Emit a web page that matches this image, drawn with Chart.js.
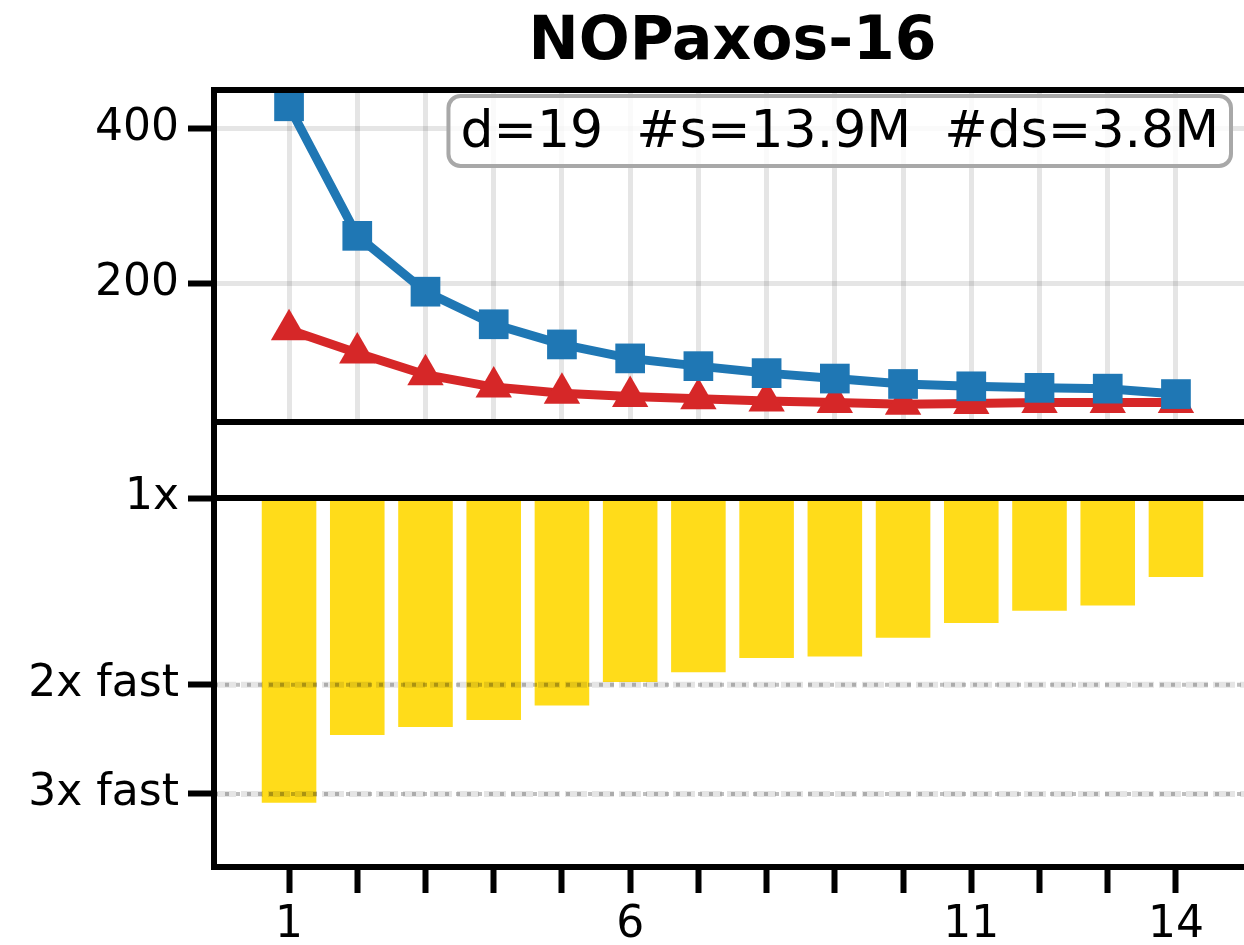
<!DOCTYPE html>
<html lang="en">
<head>
    <meta charset="UTF-8">
    <title>NOPaxos-16</title>
    <script src="https://cdn.jsdelivr.net/npm/chart.js"></script>
    <style>
        html, body {
            margin: 0;
            padding: 0;
            overflow: hidden;
            background: #fff;
        }
        body {
            position: relative;
            width: 1244px;
            height: 945px;
            font-family: "DejaVu Sans", sans-serif;
        }
        #title {
            position: absolute;
            left: 214px;
            width: 1037px;
            top: 5px;
            text-align: center;
            font-weight: bold;
            font-size: 60px;
            line-height: 66px;
            color: #000;
        }
        #topChart {
            position: absolute;
            left: 0;
            top: 0;
        }
        #bottomChart {
            position: absolute;
            left: 0;
            top: 400px;
        }
    </style>
</head>
<body>
    <div id="title">NOPaxos-16</div>
    <canvas id="topChart" width="1260" height="440"></canvas>
    <canvas id="bottomChart" width="1260" height="545"></canvas>

    <script>
        // values
        const steps = [1, 2, 3, 4, 5, 6, 7, 8, 9, 10, 11, 12, 13, 14];
        const baseline = [429, 262, 190, 148, 122, 104, 94, 85, 78, 71, 68, 66, 65, 58];
        const optimized = [141, 111, 83, 67, 59, 55, 52, 49, 47, 45, 46, 47, 47, 47];
        const speedup = [3.10, 2.41, 2.34, 2.28, 2.16, 1.98, 1.91, 1.81, 1.80, 1.68, 1.59, 1.52, 1.49, 1.34];

        const xTickLabels = [1, 6, 11, 14];
        const topTicks = [200, 400];
        const speedTicks = [1, 2, 3];
        const speedTickLabels = ['1x', '2x fast', '3x fast'];
        const infoText = 'd=19  #s=13.9M  #ds=3.8M';

        const BLUE = '#1f77b4';
        const RED = '#d62728';
        const YELLOW = '#ffdc1a';
        const FONT = '"DejaVu Sans", sans-serif';

        const frame = {
            id: 'frame',
            afterDatasetsDraw(chart) {
                const { ctx, chartArea: a } = chart;
                ctx.save();
                ctx.strokeStyle = '#000';
                ctx.lineWidth = 6;
                ctx.strokeRect(a.left, a.top, a.right - a.left, a.bottom - a.top);
                ctx.restore();
            }
        };

        const infoBox = {
            id: 'infoBox',
            afterDraw(chart) {
                const { ctx, chartArea: a } = chart;
                ctx.save();
                ctx.font = '52px ' + FONT;
                const w = ctx.measureText(infoText).width;
                const right = a.right - 20;
                const top = a.top + 6;
                const left = right - w - 24;
                ctx.beginPath();
                ctx.roundRect(left, top, right - left, 70, 12);
                ctx.fillStyle = 'rgba(255,255,255,0.8)';
                ctx.fill();
                ctx.lineWidth = 4;
                ctx.strokeStyle = '#a8a8a8';
                ctx.stroke();
                ctx.fillStyle = '#000';
                ctx.textAlign = 'left';
                ctx.textBaseline = 'alphabetic';
                ctx.fillText(infoText, left + 12, top + 51);
                ctx.restore();
            }
        };

        // 2x / 3x dotted guides and the solid 1x line, drawn over the bars
        const speedLines = {
            id: 'speedLines',
            afterDatasetsDraw(chart) {
                const { ctx, chartArea: a, scales } = chart;
                ctx.save();
                speedTicks.forEach(v => {
                    const y = scales.y.getPixelForValue(v);
                    ctx.beginPath();
                    ctx.moveTo(a.left, y);
                    ctx.lineTo(a.right, y);
                    if (v === 1) {
                        ctx.setLineDash([]);
                        ctx.strokeStyle = '#000';
                        ctx.lineWidth = 6;
                        ctx.stroke();
                    } else {
                        ctx.setLineDash([22, 5]);
                        ctx.strokeStyle = 'rgba(0,0,0,0.1)';
                        ctx.lineWidth = 6;
                        ctx.stroke();
                        ctx.setLineDash([4, 7]);
                        ctx.strokeStyle = 'rgba(0,0,0,0.25)';
                        ctx.lineWidth = 4;
                        ctx.stroke();
                    }
                });
                ctx.restore();
            }
        };

        const tickFont = { family: FONT, size: 44 };

        // fixed axis sizes so both panels line up exactly
        function fixY(s) {
            s.width = 214;
            s.paddingTop = 0;
            s.paddingBottom = 0;
        }
        function fixX(h) {
            return s => {
                s.height = h;
                s.paddingLeft = 0;
                s.paddingRight = 0;
            };
        }

        new Chart(document.getElementById('topChart'), {
            type: 'line',
            data: {
                datasets: [
                    {
                        label: 'baseline',
                        data: steps.map((s, i) => ({ x: s, y: baseline[i] })),
                        borderColor: BLUE,
                        backgroundColor: BLUE,
                        borderWidth: 9,
                        pointStyle: 'rect',
                        pointRadius: 21,
                        pointBorderWidth: 0,
                        clip: 0
                    },
                    {
                        label: 'optimized',
                        data: steps.map((s, i) => ({ x: s, y: optimized[i] })),
                        borderColor: RED,
                        backgroundColor: RED,
                        borderWidth: 9,
                        pointStyle: 'triangle',
                        pointRadius: 21,
                        pointBorderWidth: 0,
                        clip: 0
                    }
                ]
            },
            options: {
                responsive: false,
                animation: false,
                layout: { autoPadding: false, padding: { top: 90, right: 9, left: 0, bottom: 0 } },
                plugins: {
                    legend: { display: false },
                    tooltip: { enabled: false }
                },
                scales: {
                    x: {
                        type: 'linear',
                        bounds: 'data',
                        min: -0.1,
                        max: 15.1,
                        afterBuildTicks: s => { s.ticks = steps.map(v => ({ value: v })); },
                        afterFit: fixX(18),
                        ticks: { display: false },
                        grid: { color: 'rgba(0,0,0,0.1)', lineWidth: 5, drawTicks: false },
                        border: { display: false }
                    },
                    y: {
                        bounds: 'data',
                        min: 22,
                        max: 450,
                        afterBuildTicks: s => { s.ticks = topTicks.map(v => ({ value: v })); },
                        afterFit: fixY,
                        ticks: { color: '#000', font: tickFont, padding: 9 },
                        grid: {
                            color: 'rgba(0,0,0,0.1)',
                            lineWidth: 5,
                            tickColor: '#000',
                            tickWidth: 6,
                            tickLength: 26
                        },
                        border: { display: false }
                    }
                }
            },
            plugins: [frame, infoBox]
        });

        new Chart(document.getElementById('bottomChart'), {
            type: 'bar',
            data: {
                datasets: [{
                    label: 'speedup',
                    data: steps.map((s, i) => ({ x: s, y: speedup[i] })),
                    base: 1,
                    backgroundColor: YELLOW,
                    borderWidth: 0,
                    barPercentage: 0.8,
                    categoryPercentage: 1
                }]
            },
            options: {
                responsive: false,
                animation: false,
                layout: { autoPadding: false, padding: { top: 22, right: 9, left: 0, bottom: 0 } },
                plugins: {
                    legend: { display: false },
                    tooltip: { enabled: false }
                },
                scales: {
                    x: {
                        type: 'linear',
                        bounds: 'data',
                        min: -0.1,
                        max: 15.1,
                        offset: false,
                        afterBuildTicks: s => { s.ticks = steps.map(v => ({ value: v })); },
                        afterFit: fixX(78),
                        ticks: {
                            color: '#000',
                            font: tickFont,
                            padding: 6,
                            autoSkip: false,
                            maxRotation: 0,
                            callback: v => xTickLabels.includes(v) ? String(v) : ''
                        },
                        grid: {
                            offset: false,
                            drawOnChartArea: false,
                            tickColor: '#000',
                            tickWidth: 6,
                            tickLength: 26
                        },
                        border: { display: false }
                    },
                    y: {
                        type: 'logarithmic',
                        reverse: true,
                        bounds: 'data',
                        min: 0.754,
                        max: 3.934,
                        afterBuildTicks: s => { s.ticks = speedTicks.map(v => ({ value: v })); },
                        afterFit: fixY,
                        ticks: {
                            color: '#000',
                            font: tickFont,
                            padding: 9,
                            callback: v => speedTickLabels[speedTicks.indexOf(v)]
                        },
                        grid: {
                            drawOnChartArea: false,
                            tickColor: '#000',
                            tickWidth: 6,
                            tickLength: 26
                        },
                        border: { display: false }
                    }
                }
            },
            plugins: [speedLines, frame]
        });
    </script>
</body>
</html>
